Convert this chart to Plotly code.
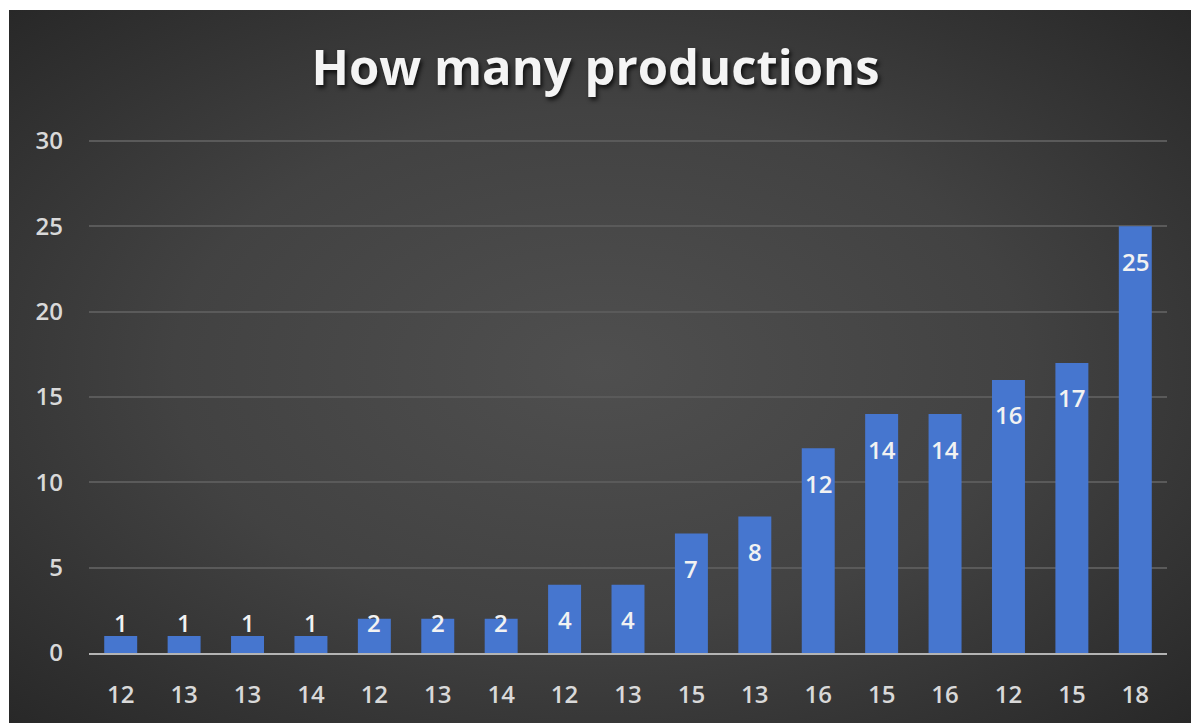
import base64
import plotly.graph_objects as go

# ---- data ----
categories = ["12", "13", "13", "14", "12", "13", "14", "12", "13",
              "15", "13", "16", "15", "16", "12", "15", "18"]
values = [1, 1, 1, 1, 2, 2, 2, 4, 4, 7, 8, 12, 14, 14, 16, 17, 25]
y_ticks = [0, 5, 10, 15, 20, 25, 30]
title_text = "How many productions"

# ---- geometry / style ----
W, H = 1191, 723
L, R, T, B = 89, 24, 140, 70
PW, PH = W - L - R, H - T - B
Y_MAX = 30.06
PX_PER_UNIT = PH / Y_MAX
LABEL_OFFSET = 35 / PX_PER_UNIT      # label centre below bar top
LABEL_MIN = 31 / PX_PER_UNIT         # lowest label centre above axis

BG_X0, BG_Y0 = 9, 10
svg = f'''<svg xmlns="http://www.w3.org/2000/svg" width="{W-BG_X0}" height="{H-BG_Y0}" preserveAspectRatio="none">
<defs><radialGradient id="g" cx="50%" cy="50%" r="72%">
<stop offset="0%" stop-color="#4f4f4f"/>
<stop offset="50%" stop-color="#424242"/>
<stop offset="100%" stop-color="#272727"/>
</radialGradient></defs>
<rect width="100%" height="100%" fill="url(#g)"/></svg>'''
bg_src = "data:image/svg+xml;base64," + base64.b64encode(svg.encode()).decode()

x_idx = list(range(len(values)))

fig = go.Figure()
fig.add_trace(go.Bar(
    x=x_idx, y=values,
    marker=dict(color="#4676cf", line=dict(width=0)),
    hoverinfo="skip",
))

annotations = []
for i, v in zip(x_idx, values):
    annotations.append(dict(
        x=i, y=max(v - LABEL_OFFSET, LABEL_MIN), xref="x", yref="y",
        text=str(v), showarrow=False, yanchor="middle", xanchor="center",
        font=dict(family="Open Sans", size=24, color="#f2f2f2", weight=600),
    ))

fig.update_layout(
    width=W, height=H,
    margin=dict(l=L, r=R, t=T, b=B, pad=0),
    paper_bgcolor="white",
    plot_bgcolor="rgba(0,0,0,0)",
    bargap=0.48,
    showlegend=False,
    title=dict(
        text=title_text, x=0.5, xref="container", xanchor="center",
        y=1 - 68 / H, yref="container", yanchor="middle",
        font=dict(family="Open Sans", size=49, color="#f4f4f4", weight=700,
                  shadow="2px 3px 4px rgba(0,0,0,0.75)"),
    ),
    xaxis=dict(
        range=[-0.5, len(values) - 0.5],
        tickmode="array", tickvals=x_idx, ticktext=categories,
        showgrid=False, zeroline=False,
        showline=True, linecolor="#b4b4b4", linewidth=2,
        ticks="", ticklabelstandoff=19,
        tickfont=dict(family="Open Sans", size=24, color="#d9d9d9", weight=600),
    ),
    yaxis=dict(
        range=[0, Y_MAX],
        tickmode="array", tickvals=y_ticks,
        showgrid=True, gridcolor="#5a5a5a", gridwidth=1.5,
        zeroline=False, showline=False, ticks="",
        ticklabelstandoff=25,
        tickfont=dict(family="Open Sans", size=24, color="#d9d9d9", weight=600),
    ),
    annotations=annotations,
    images=[dict(
        source=bg_src, xref="paper", yref="paper",
        x=(BG_X0 - L) / PW, y=(H - B - BG_Y0) / PH,
        sizex=(W - BG_X0) / PW, sizey=(H - BG_Y0) / PH,
        xanchor="left", yanchor="top", sizing="stretch", layer="below",
    )],
)

fig.write_html("out.html")
